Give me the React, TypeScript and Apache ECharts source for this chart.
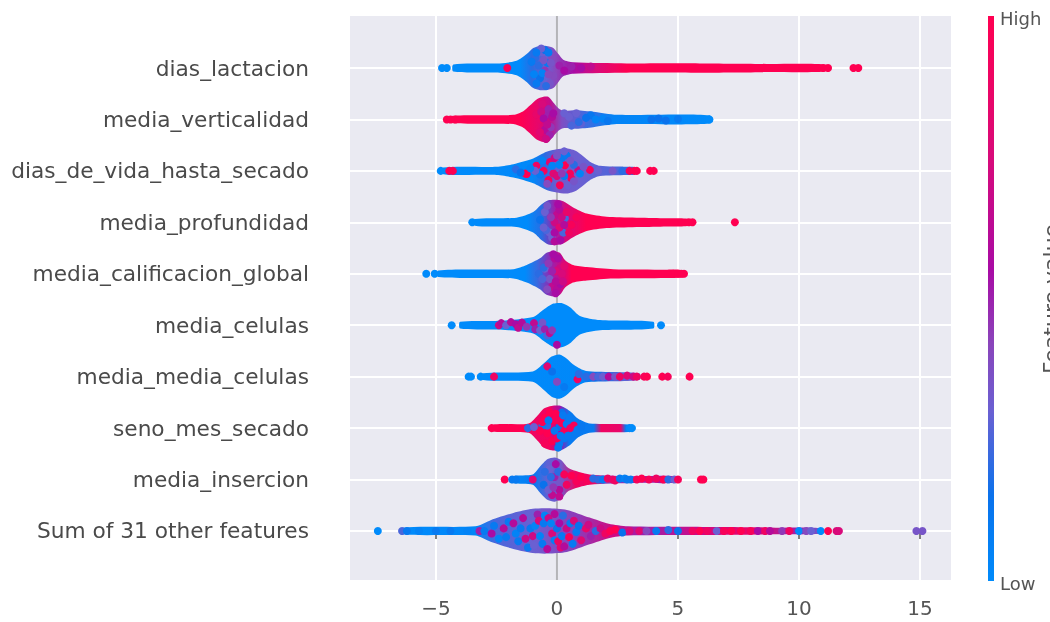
import React, { useEffect, useRef } from "react";
import * as echarts from "echarts";

const featureLabels = [
  "dias_lactacion", "media_verticalidad", "dias_de_vida_hasta_secado", "media_profundidad",
  "media_calificacion_global", "media_celulas", "media_media_celulas", "seno_mes_secado",
  "media_insercion", "Sum of 31 other features",
];
const xTicks = [-5, 0, 5, 10, 15];
const colorbarStops: [number, string][] = [
  [0, "#008bfb"], [0.15, "#0a72ec"], [0.3, "#6a60d2"], [0.42, "#8a45bb"],
  [0.55, "#a80ba5"], [0.75, "#d80a7a"], [1, "#ff0051"],
];

// swarm outlines, per feature: [shap value, half height in rows]
const outline0 = [[-4.28,.07],[-2.36,.09],[-1.67,.14],[-1.25,.27],[-.98,.39],[-.7,.43],[-.43,.43],[-.15,.39],[.06,.27],[.26,.16],[.67,.11],[2.88,.09],[5.9,.09],[8.66,.08],[11.14,.065]];
const outline1 = [[-4.49,.065],[-1.8,.09],[-1.39,.16],[-1.12,.27],[-.84,.39],[-.56,.44],[-.36,.44],[-.15,.33],[.06,.22],[.26,.17],[.81,.18],[1.5,.15],[2.47,.09],[6.32,.08]];
const outline2 = [[-4.7,.065],[-2.49,.08],[-1.8,.13],[-.98,.24],[-.43,.37],[-.01,.42],[.4,.44],[.81,.38],[1.36,.18],[1.78,.1],[2.88,.08],[3.22,.065]];
const outline3 = [[-3.39,.065],[-1.67,.09],[-.98,.2],[-.63,.35],[-.36,.43],[-.01,.44],[.26,.41],[.67,.29],[1.23,.17],[2.05,.11],[4.53,.08],[5.5,.06]];
const outline4 = [[-4.9,.065],[-1.8,.09],[-1.25,.17],[-.7,.3],[-.43,.41],[-.15,.44],[.12,.41],[.33,.27],[.67,.17],[1.23,.13],[2.33,.09],[4.53,.08],[5.2,.065]];
const outline5 = [[-4.0,.065],[-2.36,.085],[-.98,.16],[-.56,.3],[-.15,.42],[.19,.43],[.54,.35],[.95,.18],[1.78,.1],[3.98,.065]];
const outline6 = [[-3.05,.065],[-1.0,.1],[-.54,.26],[-.22,.39],[.1,.43],[.41,.35],[.72,.22],[1.2,.11],[3.4,.065]];
const outline7 = [[-2.66,.065],[-1.17,.09],[-.77,.26],[-.54,.38],[-.22,.43],[.17,.43],[.57,.32],[.88,.18],[1.35,.09],[3.09,.065]];
const outline8 = [[-1.8,.065],[-1.0,.1],[-.69,.26],[-.38,.4],[-.09,.43],[.17,.38],[.49,.22],[1.35,.1],[3.24,.065],[4.98,.06]];
const outline9 = [[-6.36,.065],[-3.37,.09],[-2.74,.21],[-1.8,.35],[-1,.43],[-.38,.44],[.41,.41],[1.35,.26],[2.14,.14],[2.93,.09],[5.29,.08],[9.23,.065],[10.96,.05]];
const outlines = [outline0, outline1, outline2, outline3, outline4, outline5, outline6, outline7, outline8, outline9];

// colour along each swarm: [shap value, feature value 0..1]
const tone0 = [[-4.3,0],[-1.5,0],[-1,.2],[-.4,.3],[0,.42],[.7,.55],[1.6,.75],[2.9,1],[11.2,1]];
const tone1 = [[-4.5,1],[-1.5,1],[-.8,.85],[-.3,.68],[.2,.38],[1,.25],[2.3,.05],[6.3,0]];
const tone2 = [[-4.7,0],[-1,.02],[-.5,.2],[0,.33],[1,.3],[2.5,.25],[3.2,.2]];
const tone3 = [[-3.4,0],[-1.2,0],[-.6,.2],[-.1,.5],[.4,.75],[1.2,1],[5.5,1]];
const tone4 = [[-4.9,0],[-1.3,0],[-.8,.22],[-.2,.5],[.2,.7],[.6,1],[5.2,1]];
const tone5 = [[-4,0],[4,0]];
const tone6 = [[-3.1,0],[1,.02],[1.5,.15],[3,.3],[3.4,.35]];
const tone7 = [[-2.7,1],[-1.3,1],[-.9,.9],[-.3,.92],[.1,.55],[.5,.1],[1.5,.1],[1.8,.9],[2.6,.85],[2.8,.1],[3.1,.02]];
const tone8 = [[-1.8,.02],[-.9,.1],[-.4,.28],[.2,.35],[.8,.9],[1.5,.9],[2,.4],[3,.5],[5,.6]];
const tone9 = [[-6.4,0],[-3.3,.03],[-2.5,.25],[-1,.3],[1,.45],[2.3,.72],[3.5,.5],[6,.7],[8,.85],[10,.5],[11,.3]];
const tones = [tone0, tone1, tone2, tone3, tone4, tone5, tone6, tone7, tone8, tone9];

// individually visible dots, per feature: [shap value, offset in rows, feature value 0..1]
const dots0 = [[-4.75,0,0],[-4.55,0,0],[-2.05,0,.97],[-.9,.2,.2],[-.7,-.2,.15],[-.6,.3,.3],[-.4,.1,.1],[-.3,-.3,.35],[-.5,-.05,.45],[-.2,.2,.4],[-.75,.05,.2],[-.45,-.35,.2],[-.5,.35,.15],[-1.05,.12,.1],[-.95,-.12,.05],[-.85,-.3,.1],[-.65,.38,.3],[-.35,.3,.1],[-.25,.1,.35],[-.15,-.15,.4],[-.6,-.1,.05],[-.55,.15,.35],[-.35,-.12,.4],[-.85,.3,.1],[.1,.05,.5],[.3,-.05,.55],[.6,.03,.5],[1,0,.55],[1.4,.03,.65],[10.8,0,1],[11,0,1],[11.2,0,1],[12.25,0,1],[12.45,0,1]];
const dots1 = [[-4.55,0,1],[-4.4,0,1],[-4.2,0,1],[-.6,.3,.75],[-.4,.1,.5],[-.5,-.2,.6],[-.3,-.3,.5],[-.7,0,.85],[-.45,-.38,.7],[-.2,.05,.6],[-.85,.1,.85],[-.7,-.25,.8],[-.65,.15,.7],[-.35,.2,.5],[-.25,-.15,.45],[-.15,.12,.55],[-.55,.02,.55],[-.4,-.1,.65],[.3,.12,.3],[.6,-.12,.25],[.8,.12,.3],[1,-.08,.28],[1.4,.08,.12],[1.9,.02,.05],[2.1,-.03,.12],[.5,.05,.3],[.9,-.05,.2],[1.2,.03,.15],[1.6,0,.05],[3.9,0,.15],[4.2,.02,.15],[4.5,-.02,.15],[5,.01,.1],[6.3,0,0]];
const dots2 = [[-4.8,0,0],[-4.45,0,1],[-4.3,0,1],[-1.3,-.05,1],[-1.25,-.06,1],[-.85,.1,.9],[-.55,0,.95],[-.3,.17,.85],[-.35,-.18,.95],[.12,-.28,.95],[.33,.11,1],[.54,-.05,.95],[.6,-.15,.9],[1.36,.02,.95],[.88,.01,.7],[-.15,-.05,.8],[0,-.1,.75],[.2,.25,.1],[-.1,.25,.7],[.4,.3,.1],[.3,-.1,.1],[-.7,-.07,.1],[.7,.12,.2],[-1.7,.03,.2],[-.9,0,.3],[-.6,.2,.05],[-.4,-.25,.4],[-.2,.1,.05],[0,.3,.35],[.1,.12,.05],[.2,-.05,.45],[.3,.38,.3],[.45,-.28,.3],[.55,.2,.35],[.7,-.2,.35],[.95,-.05,.05],[1.1,.08,.35],[-1.1,.05,.05],[-1.5,-.03,.15],[1.7,0,.3],[2.3,0,.35],[2.7,0,.2],[3,0,.95],[3.2,0,1],[3.3,0,1],[3.85,0,1],[4,0,1]];
const dots3 = [[-3.5,0,0],[-.5,.2,.3],[-.3,-.2,.3],[0,.15,.65],[.33,.08,.25],[.26,-.2,.25],[-.45,-.15,.25],[-.2,-.3,.3],[.1,.25,.6],[-.1,0,.7],[.1,-.1,.8],[-.1,-.37,.6],[.6,-.05,.95],[-.7,.05,.15],[-.55,-.1,.3],[-.4,.32,.35],[-.1,-.2,.55],[.05,.35,.55],[.2,.1,.7],[.3,-.05,.6],[.4,.2,.85],[.5,-.2,.9],[.15,-.35,.55],[-.25,.1,.45],[.8,.1,.95],[5.45,0,1],[5.6,0,1],[7.35,0,1]];
const dots4 = [[-5.4,0,0],[-5.05,0,0],[-.5,.1,.3],[-.3,-.1,.35],[-.1,.3,.6],[.1,.1,.7],[-.2,-.25,.65],[0,-.3,.6],[.15,-.2,.55],[-.4,-.3,.4],[-.05,.05,.75],[-.75,0,.2],[-.6,-.1,.25],[-.55,.12,.2],[-.35,.2,.45],[-.2,.05,.5],[-.05,-.15,.6],[.05,.3,.55],[.2,0,.75],[-.15,.38,.55],[-.05,-.38,.55],[.25,-.15,.7],[.3,.15,.8],[4.8,0,1],[5,0,1],[5.15,0,1],[5.25,0,1]];
const dots5 = [[-4.35,0,0],[-2.4,0,.7],[-2.3,.04,.6],[-2.1,0,.3],[-1.9,.06,.6],[-1.7,.02,.55],[-1.6,-.05,.65],[-1.45,.05,.6],[-1.25,-.03,.45],[-.95,.04,.65],[-.9,-.08,.5],[-.7,-.1,.3],[-.6,.05,.35],[-.5,-.08,.5],[-.4,-.2,.25],[-.3,-.15,.65],[-.2,-.1,.45],[0,-.38,.55],[4.3,0,0]];
const dots6 = [[-3.65,0,0],[-3.55,0,0],[-3.15,0,0],[-2.6,0,.9],[-.4,.2,.8],[-.2,.1,.15],[.3,-.2,.1],[.85,-.05,.9],[.9,.05,.2],[1.2,0,.2],[0,-.1,.4],[1.5,0,.4],[1.7,0,.25],[1.9,0,.3],[2.14,0,.6],[2.4,0,.35],[2.6,0,.9],[2.9,.02,.8],[3.16,0,.7],[3.3,0,.9],[3.6,0,.95],[3.72,0,1],[4.35,0,1],[4.58,0,.95],[5.48,0,1]];
const dots7 = [[-2.7,0,1],[-.5,.2,1],[-.3,.3,1],[-.1,.15,1],[-.4,-.1,1],[-.2,-.25,1],[.1,-.3,.1],[.3,-.2,.1],[.2,.3,.15],[.35,.1,.1],[.1,.02,.15],[-.4,.05,.2],[-.1,-.05,.1],[.2,.1,1],[.3,-.05,.95],[.4,.08,.1],[0,-.2,.95],[-.6,.05,.1],[.55,0,.9],[-.5,-.3,.95],[-.6,.12,1],[-.35,.15,.1],[-.05,.28,1],[.05,.15,.95],[.15,-.15,.1],[.45,-.15,.1],[.5,.2,.1],[.25,.25,.1],[.05,-.38,.1],[-.7,-.05,1],[.7,.05,.95],[.85,-.03,.1],[1,.03,.12],[1.3,0,.1],[-1.2,0,.2],[-.95,.02,.3],[3,0,.02],[3.1,0,0]];
const dots8 = [[-2.16,0,1],[-1.85,0,.1],[-1.7,0,.1],[-1,0,.8],[-.3,.2,.3],[.1,-.2,.6],[-.1,.05,.5],[-.2,-.3,.65],[-.5,.15,.2],[-.55,-.1,.15],[-.35,-.2,.3],[-.25,.05,.2],[-.05,.3,.55],[.05,.15,.2],[.15,-.05,.35],[.1,-.33,.65],[-.15,-.15,.45],[.3,.1,.95],[.4,-.1,.9],[.6,.08,1],[.8,-.03,.95],[1,.05,1],[1.25,-.02,.95],[1.5,.02,.2],[1.7,0,.2],[1.9,0,.1],[2.1,.02,.9],[2.3,0,.85],[2.4,-.02,.9],[2.6,.02,.1],[2.8,.02,.05],[2.9,0,.1],[3.05,0,.1],[3.3,0,.95],[3.5,.02,1],[3.8,0,.95],[4.1,.02,.9],[4.4,0,1],[4.6,0,.2],[4.85,0,.3],[5,0,.95],[5.95,0,1],[6.05,0,1]];
const dots9 = [[-7.4,0,0],[-6.4,0,.25],[-6.2,0,.1],[-5.7,0,.05],[-5,0,.1],[-4.4,0,.1],[-3.7,0,.05],[-3.2,0,.5],[-3,0,.1],[-2.7,-.05,.55],[-2.6,.1,.1],[-2.4,-.15,.05],[-2.2,.05,.6],[-2.1,-.12,.1],[-2,.18,.1],[-1.8,.15,.6],[-1.7,-.05,.05],[-1.6,-.2,.1],[-1.5,.05,.1],[-1.4,.25,.6],[-1.3,-.15,.7],[-1.2,-.32,.1],[-1.1,.05,.1],[-1,-.1,.7],[-.95,-.28,.3],[-.9,.1,.05],[-.8,.32,.5],[-.75,.2,.75],[-.7,-.1,.05],[-.6,-.25,.1],[-.55,.15,.1],[-.5,.3,.05],[-.4,-.35,.6],[-.35,.25,.7],[-.25,.15,.05],[-.2,-.05,.75],[-.1,.33,.6],[-.1,-.18,.08],[0,.05,.15],[.05,-.2,.9],[.1,.15,.55],[.15,-.32,.8],[.2,-.1,.1],[.25,.3,.2],[.3,-.3,.6],[.4,.05,.7],[.5,-.12,.95],[.55,.15,.1],[.65,-.25,.1],[.7,.2,.75],[.8,-.02,.1],[.9,.1,.15],[1,-.18,.8],[1.2,.05,.85],[1.3,.12,.7],[1.4,-.1,.5],[1.6,0,.2],[1.8,.05,.7],[2,-.05,.9],[2.2,0,1],[2.4,.03,1],[2.7,-.03,.15],[3,0,.75],[3.4,0,.8],[3.7,0,.4],[4.1,0,.1],[4.6,.02,.2],[5,0,.15],[5.6,0,.9],[5.9,0,1],[6.2,0,.9],[6.6,0,.3],[6.9,0,.95],[7.2,0,1],[7.6,0,1],[8,0,.95],[8.3,0,.55],[8.6,0,.9],[8.8,0,.6],[9.3,0,.45],[9.6,0,.9],[10,0,0],[10.3,0,.4],[10.5,0,.3],[10.9,0,0],[11.2,0,1],[11.55,0,.75],[11.65,0,.75],[14.85,0,.35],[15.1,0,.35]];
const dotLists = [dots0, dots1, dots2, dots3, dots4, dots5, dots6, dots7, dots8, dots9];

const hex = (s: string) => [1, 3, 5].map((i) => parseInt(s.slice(i, i + 2), 16));
function shade(t: number) {
  for (let i = 1; i < colorbarStops.length; i++) {
    const [t1, c1] = colorbarStops[i];
    if (t <= t1) {
      const [t0, c0] = colorbarStops[i - 1];
      const k = (t - t0) / (t1 - t0);
      const a = hex(c0), b = hex(c1);
      return `rgb(${a.map((v, j) => Math.round(v + (b[j] - v) * k)).join(",")})`;
    }
  }
  return colorbarStops[colorbarStops.length - 1][1];
}

export default function App() {
  const ref = useRef<HTMLDivElement>(null);
  useEffect(() => {
    document.body.style.margin = "0";
    document.body.style.overflow = "hidden";
    const chart = echarts.init(ref.current!, null, { renderer: "svg" });
    const rowY = (i: number) => featureLabels.length - 1 - i;
    const points = dotLists.flatMap((list, i) =>
      list.map(([x, off, c]) => [x, rowY(i) + off, c])
    );
    chart.setOption({
      animation: false,
      backgroundColor: "#ffffff",
      grid: {
        left: 350, right: 99, top: 16, bottom: 42, show: true,
        backgroundColor: "#eaeaf2", borderWidth: 0,
      },
      xAxis: {
        type: "value", min: -8.55, max: 16.28,
        axisLine: { show: false },
        axisTick: { show: true, length: 8, customValues: xTicks, lineStyle: { color: "#555", width: 1.5 } },
        axisLabel: {
          customValues: xTicks, margin: 15, fontFamily: "DejaVu Sans", fontSize: 20, color: "#555",
          formatter: (v: number) => String(v).replace("-", "\u2212"),
        },
        splitLine: { show: true, lineStyle: { color: "#ffffff", width: 2 } },
        offset: 3,
      },
      yAxis: {
        type: "value", min: -0.953, max: 10.011,
        axisLine: { show: false },
        axisTick: { show: false, customValues: featureLabels.map((_, i) => i) },
        axisLabel: {
          customValues: featureLabels.map((_, i) => i), margin: 41, fontFamily: "DejaVu Sans",
          fontSize: 21.7, color: "#4a4a4a", padding: [4, 0, 0, 0],
          formatter: (v: number) => featureLabels[featureLabels.length - 1 - v],
        },
        splitLine: { show: true, lineStyle: { color: "#ffffff", width: 2 } },
      },
      series: [
        {
          type: "line", data: [[0, -0.953], [0, 10.011]], symbol: "none", silent: true, z: 2,
          lineStyle: { color: "#b4b4b8", width: 2 },
        },
        {
          type: "custom", z: 3, silent: true,
          data: featureLabels.map((_, i) => [i]),
          encode: { x: [], y: [] },
          renderItem: (_: any, api: any) => {
            const i = api.value(0);
            const o = outlines[i];
            const y = rowY(i);
            const top = o.map(([x, h]) => api.coord([x, y + h]));
            const bottom = o.map(([x, h]) => api.coord([x, y - h])).reverse();
            const x0 = o[0][0], x1 = o[o.length - 1][0];
            const stops = tones[i]
              .map(([x, c]) => ({ offset: Math.min(1, Math.max(0, (x - x0) / (x1 - x0))), color: shade(c) }));
            return {
              type: "polygon",
              shape: { points: [...top, ...bottom], smooth: 0.25 },
              style: { fill: new echarts.graphic.LinearGradient(0, 0, 1, 0, stops) },
            };
          },
        },
        {
          type: "scatter", z: 4, silent: true, symbolSize: 8, data: points,
          itemStyle: { opacity: 1, color: (p: any) => shade(p.value[2]) },
        },
      ],
      graphic: [
        {
          type: "rect", shape: { x: 988, y: 16, width: 6, height: 565 },
          style: {
            fill: new echarts.graphic.LinearGradient(0, 1, 0, 0,
              colorbarStops.map(([offset, color]) => ({ offset, color }))),
          },
        },
        { type: "text", x: 1000, y: 18, style: { text: "High", fontFamily: "DejaVu Sans", fontSize: 18, fill: "#555", verticalAlign: "middle" } },
        { type: "text", x: 1000, y: 583, style: { text: "Low", fontFamily: "DejaVu Sans", fontSize: 18, fill: "#555", verticalAlign: "middle" } },
        {
          type: "text", x: 1051, y: 299, rotation: Math.PI / 2,
          style: { text: "Feature value", fontFamily: "DejaVu Sans", fontSize: 22, fill: "#555", align: "center", verticalAlign: "middle" },
        },
      ],
    });
    return () => chart.dispose();
  }, []);
  return <div ref={ref} style={{ width: 1050, height: 622, filter: "blur(0.5px)" }} />;
}
